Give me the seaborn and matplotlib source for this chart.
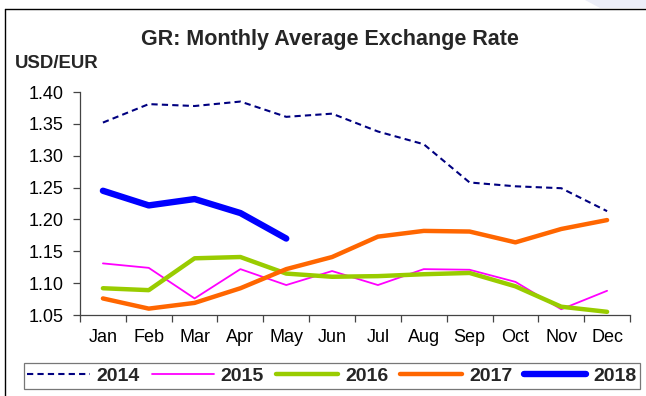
import matplotlib
matplotlib.use("Agg")
import matplotlib.pyplot as plt
from matplotlib.lines import Line2D
from matplotlib.patches import Polygon
import seaborn as sns
import pandas as pd
import numpy as np

months = ["Jan", "Feb", "Mar", "Apr", "May", "Jun",
          "Jul", "Aug", "Sep", "Oct", "Nov", "Dec"]
rate_2014 = [1.352, 1.381, 1.378, 1.385, 1.361, 1.366,
             1.338, 1.318, 1.258, 1.252, 1.249, 1.213]
rate_2015 = [1.131, 1.124, 1.076, 1.122, 1.097, 1.119,
             1.097, 1.122, 1.121, 1.102, 1.059, 1.088]
rate_2016 = [1.092, 1.089, 1.139, 1.141, 1.115, 1.110,
             1.111, 1.114, 1.116, 1.095, 1.063, 1.055]
rate_2017 = [1.076, 1.060, 1.069, 1.092, 1.122, 1.141,
             1.173, 1.182, 1.181, 1.164, 1.185, 1.199]
rate_2018 = [1.245, 1.222, 1.232, 1.210, 1.170]
y_ticks = [1.05, 1.10, 1.15, 1.20, 1.25, 1.30, 1.35, 1.40]

sns.set_theme(style="white")
plt.rcParams["font.family"] = ["Liberation Sans", "DejaVu Sans"]

W, H = 646, 396
fig = plt.figure(figsize=(W / 100, H / 100), dpi=100)
ax = fig.add_axes([80 / W, 1 - 315 / H, 550 / W, 223 / H])

series = [
    ("2014", rate_2014, "#000080", 1.5, (0, (3.0, 2.0))),
    ("2015", rate_2015, "#FF00FF", 1.3, "-"),
    ("2016", rate_2016, "#99CC00", 3.2, "-"),
    ("2017", rate_2017, "#FF6600", 3.2, "-"),
    ("2018", rate_2018, "#0000FF", 4.6, "-"),
]

handles = []
for name, vals, color, lw, ls in series:
    df = pd.DataFrame({"month": np.arange(len(vals)), "rate": vals})
    sns.lineplot(data=df, x="month", y="rate", ax=ax, color=color,
                 linewidth=lw, linestyle=ls, solid_capstyle="round",
                 dash_capstyle="butt", legend=False)
    handles.append(Line2D([0], [0], color=color, lw=lw, linestyle=ls,
                          solid_capstyle="round", label=name))

axis_grey = "#444444"
ax.set_xlim(-0.5, 11.5)
ax.set_ylim(1.05, 1.40)
ax.set_yticks(y_ticks)
ax.set_yticklabels([f"{v:.2f}" for v in y_ticks], fontsize=13)
ax.set_xticks(range(12))
ax.set_xticklabels(months, fontsize=13)
ax.set_xticks(np.arange(-0.5, 12, 1), minor=True)
ax.tick_params(axis="x", which="major", length=0, pad=10, labelcolor="black")
ax.tick_params(axis="x", which="minor", length=5, width=0.9, color=axis_grey,
               direction="out", bottom=True)
ax.tick_params(axis="y", length=5, width=0.9, color=axis_grey, left=True,
               direction="out", pad=7, labelcolor="black")
ax.set_xlabel("")
ax.set_ylabel("")
sns.despine(ax=ax)
for side in ("left", "bottom"):
    ax.spines[side].set_color(axis_grey)
    ax.spines[side].set_linewidth(0.9)
ax.set_facecolor("white")

fig.text(330 / W, 1 - 39 / H, "GR: Monthly Average Exchange Rate",
         ha="center", va="center", fontsize=15.5, fontweight="bold")
fig.text(15 / W, 1 - 63 / H, "USD/EUR", ha="left", va="center",
         fontsize=13.4, fontweight="bold")

leg = fig.legend(handles=handles, loc="center",
                 bbox_to_anchor=(332 / W, 1 - 376 / H), ncol=5,
                 frameon=True, fancybox=False, handlelength=3.2,
                 columnspacing=0.6, handletextpad=0.36, borderpad=0.2,
                 borderaxespad=0.0,
                 prop={"weight": "bold", "size": 14})
leg.get_frame().set_edgecolor("#555555")
leg.get_frame().set_linewidth(0.9)

# page frame and corner decoration
fig.patches.append(Polygon([[585 / W, 1.0], [646 / W, 1.0], [646 / W, 1 - 8 / H],
                            [600 / W, 1 - 8 / H]], closed=True,
                           transform=fig.transFigure, facecolor="#ECEEF8",
                           edgecolor="none"))
fig.add_artist(Line2D([5 / W, 5 / W], [0, 1 - 9 / H], color="black", lw=1,
                      transform=fig.transFigure))
fig.add_artist(Line2D([5 / W, 1.0], [1 - 9 / H, 1 - 9 / H], color="black", lw=1,
                      transform=fig.transFigure))

fig.savefig("out.png", dpi=100)
